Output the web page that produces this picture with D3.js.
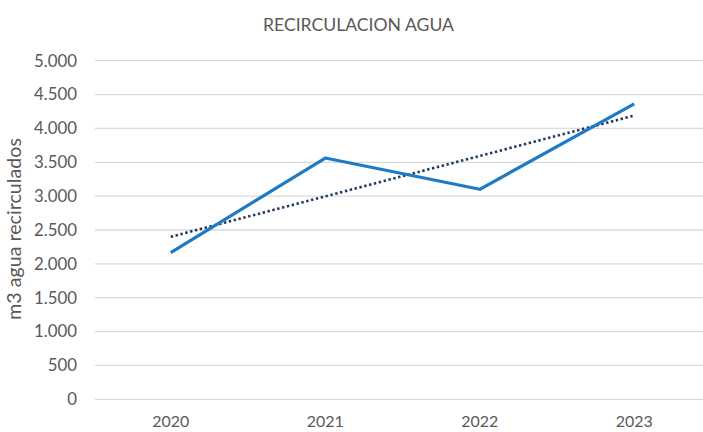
<!DOCTYPE html>
<html><head><meta charset="utf-8">
<script src="https://cdn.jsdelivr.net/npm/d3@7"></script>
<style>html,body{margin:0;padding:0;background:#fff;} svg{display:block;}</style>
</head><body>
<svg id="c" width="703" height="432"></svg>
<script>
const years = ["2020", "2021", "2022", "2023"];
const recirculado = [2165, 3563, 3101, 4361];
const trendEnds = [2400, 4190];   // linear trendline at first and last year
const yTicks = [0, 500, 1000, 1500, 2000, 2500, 3000, 3500, 4000, 4500, 5000];
const title = "RECIRCULACION AGUA";
const yTitle = "m3 agua recirculados";

const FONT = "Lato, 'Open Sans', sans-serif";
const TXT = "#595959";
const svg = d3.select("#c");

const x = d3.scaleBand().domain(years).range([93.5, 711.5]).padding(0);
const cx = d => x(d) + x.bandwidth() / 2;
const y = d3.scaleLinear().domain([0, 5000]).range([399.3, 60.7]);

const fmt = v => d3.format(",")(v).replace(/,/g, ".");

// gridlines
svg.append("g").selectAll("line").data(yTicks).join("line")
  .attr("x1", 95).attr("x2", 711).attr("y1", d => y(d)).attr("y2", d => y(d))
  .attr("stroke", "#d9d9d9").attr("stroke-width", 1.3);

// helper fit font size to a target width
function fit(sel, target) {
  const w = sel.node().getComputedTextLength();
  const fs = parseFloat(sel.attr("font-size"));
  sel.attr("font-size", fs * target / w);
}

// y tick labels
const yl = svg.append("g").selectAll("text").data(yTicks).join("text")
  .attr("x", 77).attr("y", d => y(d)).attr("dy", "0.35em")
  .attr("text-anchor", "end").attr("font-family", FONT).attr("font-size", 16)
  .attr("fill", TXT).text(d => fmt(d));
{ const top = yl.filter(d => d === 5000); fit(top, 43); yl.attr("font-size", top.attr("font-size")); }

// x labels
const xl = svg.append("g").selectAll("text").data(years).join("text")
  .attr("x", d => cx(d)).attr("y", 427)
  .attr("text-anchor", "middle").attr("font-family", FONT).attr("font-size", 16)
  .attr("fill", TXT).text(d => d);
{ const f = xl.filter((d, i) => i === 0); fit(f, 37); xl.attr("font-size", f.attr("font-size")); }

// title
const t = svg.append("text").attr("x", 358.5).attr("y", 31)
  .attr("text-anchor", "middle").attr("font-family", FONT).attr("font-size", 18)
  .attr("fill", TXT).text(title);
fit(t, 191);

// y axis title
const yt = svg.append("text").attr("transform", "translate(21,229) rotate(-90)")
  .attr("text-anchor", "middle").attr("font-family", FONT).attr("font-size", 18)
  .attr("fill", TXT).text(yTitle);
fit(yt, 182);

// trendline
svg.append("line")
  .attr("x1", cx(years[0])).attr("x2", cx(years[years.length - 1]))
  .attr("y1", y(trendEnds[0])).attr("y2", y(trendEnds[1]))
  .attr("stroke", "#203864").attr("stroke-width", 2.6)
  .attr("stroke-dasharray", "2.4,2.6");

// main line
const line = d3.line().x((d, i) => cx(years[i])).y(d => y(d));
svg.append("path").datum(recirculado).attr("d", line)
  .attr("fill", "none").attr("stroke", "#1f7ac6").attr("stroke-width", 3.2)
  .attr("stroke-linejoin", "round").attr("stroke-linecap", "butt");
</script>
</body></html>
